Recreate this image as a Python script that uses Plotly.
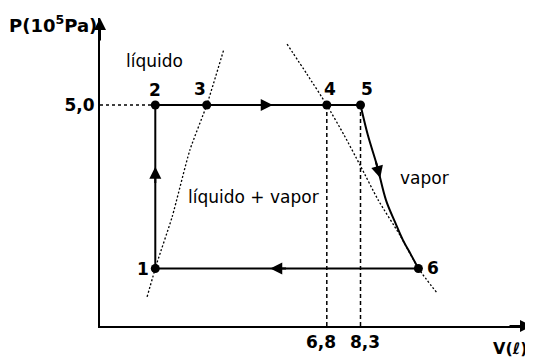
import numpy as np
import plotly.graph_objects as go

# ---- data (schematic P-V diagram, positions) ----
point_labels = ["1", "2", "3", "4", "5", "6"]
point_V = [1.28, 1.28, 2.47, 5.25, 6.03, 7.37]
point_P = [1.3, 5.0, 5.0, 5.0, 5.0, 1.3]

# saturated-liquid curve (dotted, left)
liquid_V = [1.09, 1.32, 1.67, 2.08, 2.47, 2.87]
liquid_P = [0.66, 1.43, 2.47, 3.98, 5.00, 6.27]

# saturated-vapor curve (dotted, right)
vapor_V = [4.33, 4.79, 5.25, 5.65, 6.02, 6.44, 6.94, 7.38, 7.80]
vapor_P = [6.38, 5.70, 5.00, 4.32, 3.64, 2.85, 2.06, 1.29, 0.75]

# expansion 5 -> 6
expansion_V = [6.03, 6.20, 6.41, 6.62, 6.83, 7.01, 7.20, 7.37]
expansion_P = [5.00, 4.32, 3.64, 2.85, 2.35, 1.95, 1.61, 1.30]

x_tick_labels = ["6,8", "8,3"]
y_tick_labels = ["5,0"]

FONT = "DejaVu Sans"
BLACK = "#000000"

fig = go.Figure()

# dotted saturation curves
for cv, cp in ((liquid_V, liquid_P), (vapor_V, vapor_P)):
    fig.add_trace(go.Scatter(x=cv, y=cp, mode="lines",
                             line=dict(color=BLACK, width=1.3, dash="2px,2px", shape="spline", smoothing=0.6),
                             hoverinfo="skip", showlegend=False))

# dashed guide lines
fig.add_trace(go.Scatter(x=[0, point_V[1]], y=[point_P[1], point_P[1]], mode="lines",
                         line=dict(color=BLACK, width=1.5, dash="3px,3px"),
                         hoverinfo="skip", showlegend=False))
for i in (3, 4):
    fig.add_trace(go.Scatter(x=[point_V[i], point_V[i]], y=[0, point_P[i]], mode="lines",
                             line=dict(color=BLACK, width=1.5, dash="4px,3px"),
                             hoverinfo="skip", showlegend=False))

# cycle: 6 -> 1 -> 2 -> 3 -> 4 -> 5 (straight segments)
seg_V = [point_V[5], point_V[0], point_V[1], point_V[2], point_V[3], point_V[4]]
seg_P = [point_P[5], point_P[0], point_P[1], point_P[2], point_P[3], point_P[4]]
fig.add_trace(go.Scatter(x=seg_V, y=seg_P, mode="lines",
                         line=dict(color=BLACK, width=2),
                         hoverinfo="skip", showlegend=False))
# expansion 5 -> 6 (curve)
fig.add_trace(go.Scatter(x=expansion_V, y=expansion_P, mode="lines",
                         line=dict(color=BLACK, width=2, shape="spline", smoothing=1.0),
                         hoverinfo="skip", showlegend=False))
fig.add_trace(go.Scatter(x=point_V, y=point_P, mode="markers",
                         marker=dict(color=BLACK, size=9),
                         cliponaxis=False, hoverinfo="skip", showlegend=False))

annotations = []

def flow_arrow(tip_v, tip_p, tail_v, tail_p):
    annotations.append(dict(x=tip_v, y=tip_p, ax=tail_v, ay=tail_p,
                            xref="x", yref="y", axref="x", ayref="y",
                            text="", showarrow=True, arrowhead=2,
                            arrowsize=1.2, arrowwidth=2, arrowcolor=BLACK,
                            standoff=0, startstandoff=0))

# 1 -> 2 (up)
tp = point_P[0] + 0.622 * (point_P[1] - point_P[0])
flow_arrow(point_V[0], tp, point_V[0], tp - 0.4)
# 2 -> 4 (right)
tv = point_V[1] + 0.685 * (point_V[3] - point_V[1])
flow_arrow(tv, point_P[1], tv - 0.4, point_P[1])
# 6 -> 1 (left)
tv = point_V[5] + 0.563 * (point_V[0] - point_V[5])
flow_arrow(tv, point_P[5], tv + 0.4, point_P[5])
# 5 -> 6 (down along curve)
tp = 3.35
tip_v = float(np.interp(tp, expansion_P[::-1], expansion_V[::-1]))
tail_v = float(np.interp(tp + 0.4, expansion_P[::-1], expansion_V[::-1]))
flow_arrow(tip_v, tp, tail_v, tp + 0.4)

# point labels
label_shift = {"1": (-12, 0), "2": (0, 15), "3": (-7, 16), "4": (3, 16), "5": (6, 16), "6": (15, 1)}
for lab, v, p in zip(point_labels, point_V, point_P):
    dx, dy = label_shift[lab]
    annotations.append(dict(x=v, y=p, xref="x", yref="y", text="<b>%s</b>" % lab,
                            showarrow=False, xshift=dx, yshift=dy,
                            font=dict(family=FONT, size=17, color=BLACK)))

# region labels
for txt, v, p in (("líquido", 1.27, 6.0), ("líquido + vapor", 3.56, 2.92), ("vapor", 7.52, 3.35)):
    annotations.append(dict(x=v, y=p, xref="x", yref="y", text=txt, showarrow=False,
                            font=dict(family=FONT, size=17, color=BLACK)))

# volume tick labels under the two dashed lines (spread apart as in the original)
for lab, v, dx in zip(x_tick_labels, [point_V[3], point_V[4]], [-6, 4]):
    annotations.append(dict(x=v, y=0, xref="x", yref="paper", text="<b>%s</b>" % lab,
                            showarrow=False, xanchor="center", yanchor="top",
                            xshift=dx, yshift=-4,
                            font=dict(family=FONT, size=17, color=BLACK)))

# axis titles
annotations.append(dict(x=0, y=1, xref="paper", yref="paper", text="<b>P(10<sup>5</sup>Pa)</b>",
                        showarrow=False, xanchor="right", yanchor="middle", xshift=-1, yshift=-6,
                        font=dict(family=FONT, size=18, color=BLACK)))
annotations.append(dict(x=1, y=0, xref="paper", yref="paper", text="<b>V(ℓ)</b>",
                        showarrow=False, xanchor="right", yanchor="bottom", xshift=-2, yshift=-34,
                        font=dict(family=FONT, size=16, color=BLACK)))

# axis arrowheads
annotations.append(dict(x=0, y=1, xref="paper", yref="paper", ax=0, ay=24, text="",
                        showarrow=True, arrowhead=2, arrowsize=1.2, arrowwidth=2,
                        arrowcolor=BLACK, standoff=0))
annotations.append(dict(x=1, y=0, xref="paper", yref="paper", ax=-24, ay=0, text="",
                        showarrow=True, arrowhead=2, arrowsize=1.2, arrowwidth=2,
                        arrowcolor=BLACK, standoff=0))

# the page body adds an 8px margin; size and margins compensate so the
# plot area sits at x 100..532, y 18..326 of the window
fig.update_layout(
    width=525, height=353,
    margin=dict(l=92, r=1, t=10, b=35),
    paper_bgcolor="white", plot_bgcolor="white",
    annotations=annotations,
    font=dict(family=FONT, size=17, color=BLACK),
    xaxis=dict(range=[0, 10], showgrid=False, zeroline=False, showline=True,
               linecolor=BLACK, linewidth=2,
               showticklabels=False, ticks=""),
    yaxis=dict(range=[0, 6.97], showgrid=False, zeroline=False, showline=True,
               linecolor=BLACK, linewidth=2,
               tickvals=[point_P[1]],
               ticktext=["<b>%s</b>" % t for t in y_tick_labels],
               ticks="", tickcolor="rgba(0,0,0,0)",
               tickfont=dict(family=FONT, size=17, color=BLACK)),
)

fig.write_html("out.html")
